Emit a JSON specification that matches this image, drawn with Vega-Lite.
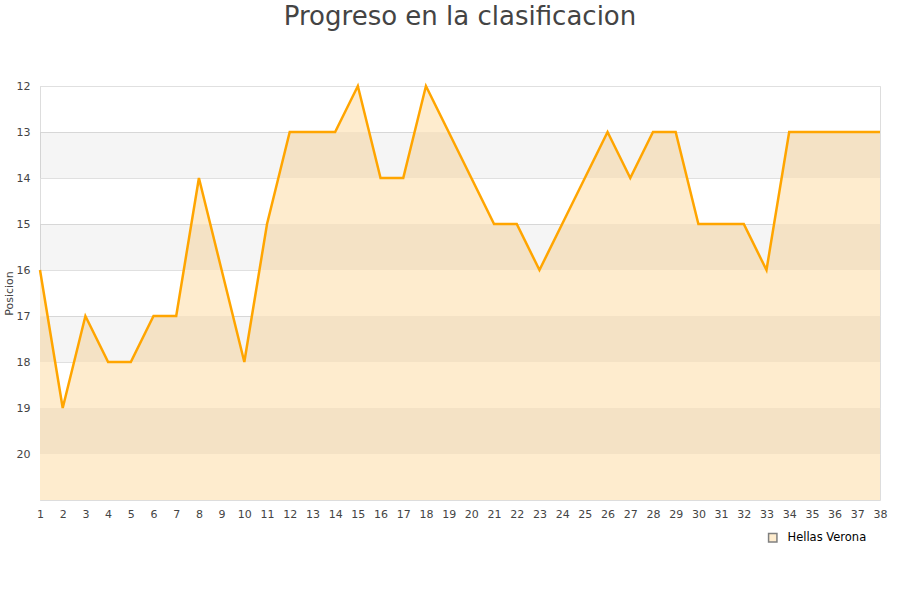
{
  "$schema": "https://vega.github.io/schema/vega-lite/v6.json",
  "width": 840,
  "height": 414,
  "autosize": "none",
  "padding": {"left": 40, "top": 86, "right": 20, "bottom": 100},
  "background": "white",
  "title": {"text": "Progreso en la clasificacion", "fontSize": 26, "font": "DejaVu Sans", "fontWeight": "normal", "color": "#444444", "anchor": "middle", "offset": 50},
  "config": {"view": {"stroke": "#dddddd"}, "font": "DejaVu Sans"},
  "datasets": {
    "bands": [
      {"a": 13, "b": 14}, {"a": 15, "b": 16}, {"a": 17, "b": 18}, {"a": 19, "b": 20}
    ],
    "pos": [
      {"jornada": 1, "posicion": 16, "equipo": "Hellas Verona"},
      {"jornada": 2, "posicion": 19, "equipo": "Hellas Verona"},
      {"jornada": 3, "posicion": 17, "equipo": "Hellas Verona"},
      {"jornada": 4, "posicion": 18, "equipo": "Hellas Verona"},
      {"jornada": 5, "posicion": 18, "equipo": "Hellas Verona"},
      {"jornada": 6, "posicion": 17, "equipo": "Hellas Verona"},
      {"jornada": 7, "posicion": 17, "equipo": "Hellas Verona"},
      {"jornada": 8, "posicion": 14, "equipo": "Hellas Verona"},
      {"jornada": 9, "posicion": 16, "equipo": "Hellas Verona"},
      {"jornada": 10, "posicion": 18, "equipo": "Hellas Verona"},
      {"jornada": 11, "posicion": 15, "equipo": "Hellas Verona"},
      {"jornada": 12, "posicion": 13, "equipo": "Hellas Verona"},
      {"jornada": 13, "posicion": 13, "equipo": "Hellas Verona"},
      {"jornada": 14, "posicion": 13, "equipo": "Hellas Verona"},
      {"jornada": 15, "posicion": 12, "equipo": "Hellas Verona"},
      {"jornada": 16, "posicion": 14, "equipo": "Hellas Verona"},
      {"jornada": 17, "posicion": 14, "equipo": "Hellas Verona"},
      {"jornada": 18, "posicion": 12, "equipo": "Hellas Verona"},
      {"jornada": 19, "posicion": 13, "equipo": "Hellas Verona"},
      {"jornada": 20, "posicion": 14, "equipo": "Hellas Verona"},
      {"jornada": 21, "posicion": 15, "equipo": "Hellas Verona"},
      {"jornada": 22, "posicion": 15, "equipo": "Hellas Verona"},
      {"jornada": 23, "posicion": 16, "equipo": "Hellas Verona"},
      {"jornada": 24, "posicion": 15, "equipo": "Hellas Verona"},
      {"jornada": 25, "posicion": 14, "equipo": "Hellas Verona"},
      {"jornada": 26, "posicion": 13, "equipo": "Hellas Verona"},
      {"jornada": 27, "posicion": 14, "equipo": "Hellas Verona"},
      {"jornada": 28, "posicion": 13, "equipo": "Hellas Verona"},
      {"jornada": 29, "posicion": 13, "equipo": "Hellas Verona"},
      {"jornada": 30, "posicion": 15, "equipo": "Hellas Verona"},
      {"jornada": 31, "posicion": 15, "equipo": "Hellas Verona"},
      {"jornada": 32, "posicion": 15, "equipo": "Hellas Verona"},
      {"jornada": 33, "posicion": 16, "equipo": "Hellas Verona"},
      {"jornada": 34, "posicion": 13, "equipo": "Hellas Verona"},
      {"jornada": 35, "posicion": 13, "equipo": "Hellas Verona"},
      {"jornada": 36, "posicion": 13, "equipo": "Hellas Verona"},
      {"jornada": 37, "posicion": 13, "equipo": "Hellas Verona"},
      {"jornada": 38, "posicion": 13, "equipo": "Hellas Verona"}
    ]
  },
  "layer": [
    {
      "data": {"name": "pos"},
      "mark": {"type": "area", "fillOpacity": 1, "strokeWidth": 0, "interpolate": "linear"},
      "encoding": {
        "x": {"field": "jornada", "type": "ordinal", "scale": {"type": "point", "padding": 0},
              "axis": {"title": null, "labelAngle": 0, "labelOverlap": false, "grid": false, "ticks": false, "domain": false, "labelColor": "#444444", "labelFontSize": 11, "labelPadding": 8}},
        "y": {"field": "posicion", "type": "quantitative", "scale": {"domain": [12, 21], "reverse": true, "nice": false, "zero": false},
              "axis": {"title": "Posicion", "titleFontWeight": "normal", "titleFontSize": 11, "titleColor": "#444444", "titlePadding": 2, "values": [12,13,14,15,16,17,18,19,20], "gridColor": "#e0e0e0", "ticks": false, "domainColor": "#dddddd", "labelColor": "#444444", "labelFontSize": 11, "labelPadding": 10}},
        "y2": {"datum": 21},
        "fill": {"field": "equipo", "type": "nominal", "scale": {"range": ["#feecce"]},
                 "legend": {"title": null, "orient": "none", "legendX": 727, "legendY": 446, "symbolType": "square", "symbolSize": 70, "symbolOpacity": 1, "labelFontSize": 11.5, "labelColor": "#000000", "labelOffset": 9, "symbolStrokeWidth": 1.5}},
        "stroke": {"field": "equipo", "type": "nominal", "scale": {"range": ["#808080"]},
                 "legend": {"title": null, "orient": "none", "legendX": 727, "legendY": 446, "symbolType": "square", "symbolSize": 70, "symbolOpacity": 1, "labelFontSize": 11.5, "labelColor": "#000000", "labelOffset": 9, "symbolStrokeWidth": 1.5}}
      }
    },
    {
      "data": {"name": "bands"},
      "mark": {"type": "rect", "color": "#000000", "opacity": 0.04},
      "encoding": {
        "y": {"field": "a", "type": "quantitative"},
        "y2": {"field": "b"}
      }
    },
    {
      "data": {"name": "pos"},
      "mark": {"type": "line", "color": "#ffa500", "strokeWidth": 2.5},
      "encoding": {
        "x": {"field": "jornada", "type": "ordinal"},
        "y": {"field": "posicion", "type": "quantitative"}
      }
    }
  ]
}
